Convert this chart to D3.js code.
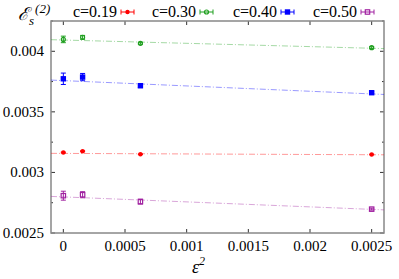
<!DOCTYPE html>
<html>
<head>
<meta charset="utf-8">
<script src="https://cdn.jsdelivr.net/npm/d3@7"></script>
<style>
  body { margin: 0; background: #fff; }
</style>
</head>
<body>
<div id="chart"></div>
<script>
// epsilon^2 values (lattice spacings 1/80, 1/40, 1/20 and continuum 0)
const eps2 = [0, 0.00015625, 0.000625, 0.0025];

const seriesNames = ["c=0.19", "c=0.30", "c=0.40", "c=0.50"];
const seriesColors = ["#ff0000", "#1f9f1f", "#0000ff", "#a020a0"];
const seriesMarkers = ["circleFilled", "circleOpen", "squareFilled", "squareOpen"];

const valsC019 = [0.003164, 0.003175, 0.003150, 0.003148];
const errsC019 = [0.000004, 0.000004, 0.000003, 0.000003];
const valsC030 = [0.004098, 0.004115, 0.004066, 0.004030];
const errsC030 = [0.000027, 0.000016, 0.000008, 0.000008];
const valsC040 = [0.003773, 0.003787, 0.003716, 0.003658];
const errsC040 = [0.000047, 0.000030, 0.000016, 0.000008];
const valsC050 = [0.002808, 0.002816, 0.002759, 0.002697];
const errsC050 = [0.000037, 0.000025, 0.000020, 0.000008];

// linear fits: value = intercept + slope * eps^2
const fitIntercepts = [0.003157, 0.004093, 0.003758, 0.002798];
const fitSlopes = [-0.0044, -0.0272, -0.044, -0.0412];

const xTicks = [0, 0.0005, 0.001, 0.0015, 0.002, 0.0025];
const xTickLabels = ["0", "0.0005", "0.001", "0.0015", "0.002", "0.0025"];
const yTicks = [0.0025, 0.003, 0.0035, 0.004];
const yTickLabels = ["0.0025", "0.003", "0.0035", "0.004"];

const allVals = [valsC019, valsC030, valsC040, valsC050];
const allErrs = [errsC019, errsC030, errsC040, errsC050];

const W = 399, H = 279;
const m = { left: 51, right: 15, top: 21, bottom: 46 };

const svg = d3.select("#chart").append("svg")
  .attr("width", W).attr("height", H)
  .attr("font-family", "'Liberation Serif', 'Times New Roman', serif");

const x = d3.scaleLinear().domain([-0.0001, 0.0026]).range([m.left, W - m.right]);
const y = d3.scaleLinear().domain([0.0025, 0.00425]).range([H - m.bottom, m.top]);

// ticks, inward on all sides
const tickG = svg.append("g").attr("stroke", "#333").attr("stroke-width", 1);
xTicks.forEach(function (t) {
  tickG.append("line").attr("x1", x(t)).attr("x2", x(t)).attr("y1", y.range()[0]).attr("y2", y.range()[0] - 4);
  tickG.append("line").attr("x1", x(t)).attr("x2", x(t)).attr("y1", y.range()[1]).attr("y2", y.range()[1] + 4);
});
d3.range(0.0025, 0.00426, 0.00025).forEach(function (t, i) {
  const len = i % 2 === 0 ? 4 : 2;
  tickG.append("line").attr("x1", x.range()[0]).attr("x2", x.range()[0] + len).attr("y1", y(t)).attr("y2", y(t));
  tickG.append("line").attr("x1", x.range()[1]).attr("x2", x.range()[1] - len).attr("y1", y(t)).attr("y2", y(t));
});

// frame
svg.append("rect")
  .attr("x", m.left).attr("y", m.top)
  .attr("width", W - m.left - m.right).attr("height", H - m.top - m.bottom)
  .attr("fill", "none").attr("stroke", "#888").attr("stroke-width", 1.5);

// tick labels
svg.append("g").selectAll("text").data(xTicks).enter().append("text")
  .attr("x", d => x(d)).attr("y", H - m.bottom + 18)
  .attr("text-anchor", "middle").attr("font-size", 15)
  .text((d, i) => xTickLabels[i]);
svg.append("g").selectAll("text").data(yTicks).enter().append("text")
  .attr("x", m.left - 7).attr("y", d => y(d) + 5)
  .attr("text-anchor", "end").attr("font-size", 15)
  .text((d, i) => yTickLabels[i]);

// axis titles
const yt = svg.append("text").attr("x", 18).attr("y", 20).attr("font-size", 18).attr("font-style", "italic");
yt.append("tspan").text("\u2130");
yt.append("tspan").attr("font-size", 13).attr("dy", 5).text("s");
yt.append("tspan").attr("font-size", 13).attr("dy", -12).attr("dx", 1).text("(2)");

const xt = svg.append("text").attr("x", 192).attr("y", 273).attr("font-size", 18).attr("font-style", "italic");
xt.append("tspan").text("\u03b5");
xt.append("tspan").attr("font-size", 12).attr("dy", -8).text("2");

function drawMarker(g, kind, cx, cy, color) {
  if (kind === "circleFilled") {
    g.append("circle").attr("cx", cx).attr("cy", cy).attr("r", 2.2).attr("fill", color);
  } else if (kind === "circleOpen") {
    g.append("circle").attr("cx", cx).attr("cy", cy).attr("r", 2).attr("fill", "none").attr("stroke", color).attr("stroke-width", 1.2);
  } else if (kind === "squareFilled") {
    g.append("rect").attr("x", cx - 2.7).attr("y", cy - 2.7).attr("width", 5.4).attr("height", 5.4).attr("fill", color);
  } else {
    g.append("rect").attr("x", cx - 2.2).attr("y", cy - 2.2).attr("width", 4.4).attr("height", 4.4).attr("fill", "none").attr("stroke", color).attr("stroke-width", 1.2);
  }
}

// fits
const plot = svg.append("g");
fitIntercepts.forEach(function (b, s) {
  const xs = x.domain();
  plot.append("line")
    .attr("x1", x(xs[0])).attr("y1", y(b + fitSlopes[s] * xs[0]))
    .attr("x2", x(xs[1])).attr("y2", y(b + fitSlopes[s] * xs[1]))
    .attr("stroke", seriesColors[s]).attr("stroke-opacity", 0.4)
    .attr("stroke-width", 1).attr("stroke-dasharray", "6,2,1,2");
});

// points with error bars
allVals.forEach(function (vals, s) {
  const col = seriesColors[s];
  const g = plot.append("g");
  vals.forEach(function (v, i) {
    const cx = x(eps2[i]);
    const e = allErrs[s][i];
    g.append("line").attr("x1", cx).attr("x2", cx).attr("y1", y(v - e)).attr("y2", y(v + e)).attr("stroke", col).attr("stroke-width", 1);
    [v - e, v + e].forEach(function (w) {
      g.append("line").attr("x1", cx - 2.5).attr("x2", cx + 2.5).attr("y1", y(w)).attr("y2", y(w)).attr("stroke", col).attr("stroke-width", 1);
    });
    drawMarker(g, seriesMarkers[s], cx, y(v), col);
  });
});

// legend
const legX = [117, 196, 277, 357];
seriesNames.forEach(function (name, s) {
  const col = seriesColors[s];
  const g = svg.append("g");
  g.append("text").attr("x", legX[s]).attr("y", 17).attr("text-anchor", "end").attr("font-size", 16).text(name);
  const x0 = legX[s] + 4, x1 = legX[s] + 17, cy = 12;
  g.append("line").attr("x1", x0).attr("x2", x1).attr("y1", cy).attr("y2", cy).attr("stroke", col);
  [x0, x1].forEach(function (xx) {
    g.append("line").attr("x1", xx).attr("x2", xx).attr("y1", cy - 2.5).attr("y2", cy + 2.5).attr("stroke", col);
  });
  drawMarker(g, seriesMarkers[s], (x0 + x1) / 2, cy, col);
});
</script>
</body>
</html>
